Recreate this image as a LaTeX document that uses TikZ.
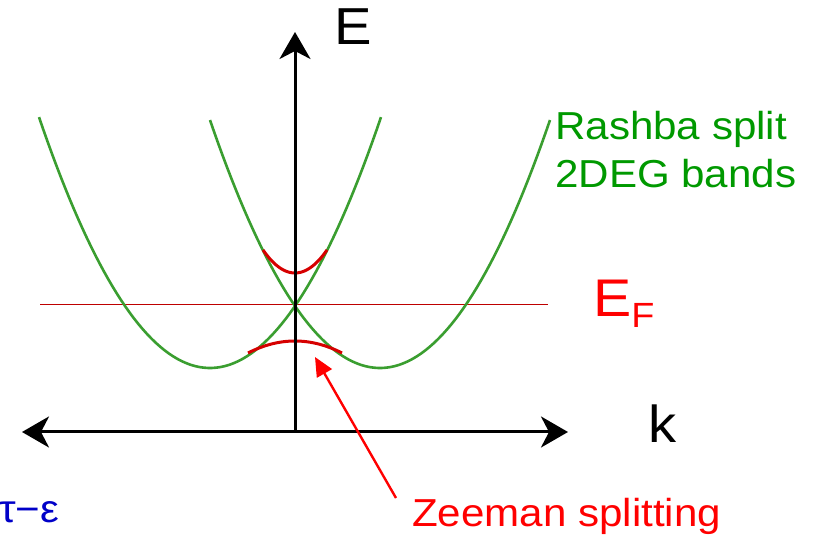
\documentclass[tikz,border=0pt]{standalone}
\usepackage{fontspec}
\setmainfont{Liberation Sans}[FakeStretch=1.08]
\usepackage{tikz}
\usetikzlibrary{arrows.meta,calc}
\definecolor{bandgreen}{RGB}{58,158,48}
\definecolor{txtgreen}{RGB}{0,153,0}
\definecolor{zred}{RGB}{214,0,0}
\definecolor{efred}{RGB}{190,0,0}
\definecolor{tblue}{RGB}{0,0,200}

\begin{document}
\begin{tikzpicture}[x=1pt,y=-1pt, >={Stealth[length=27pt,width=31pt,inset=8pt]},
  axis/.style={line width=3pt}, band/.style={draw=bandgreen,line width=2.6pt},
  zee/.style={draw=zred,line width=3pt}, big/.style={inner sep=0,font=\fontsize{52}{52}\selectfont},
  txt/.style={inner sep=0,font=\fontsize{39}{48}\selectfont}]
  \useasboundingbox (0,0) rectangle (815,537);
  \coordinate(o) at (295,432); \coordinate(et) at (295,32);
  \coordinate(kl) at (22,432); \coordinate(kr) at (568,432);
  \coordinate(fl) at (40,305); \coordinate(fr) at (548,305);
  \draw[efred,line width=1pt](fl)--(fr);
  % Rashba bands
  \draw[band] plot[domain=-171:171,samples=80]({210+\x},{368-0.858*(\x/10)*(\x/10)});
  \draw[band] plot[domain=-170:170,samples=80]({380+\x},{368-0.858*(\x/10)*(\x/10)});
  % Zeeman gaps
  \draw[zee] plot[domain=-32:32,samples=30]({295+\x},{273-0.0225*\x*\x});
  \draw[zee] plot[domain=-47:47,samples=30]({295+\x},{341+0.00543*\x*\x});
  \draw[axis,<->](kl)--(kr);
  \draw[axis,->](o)--(et);
  \node[big,anchor=base west](elab) at (334,45){E};
  \node[big,anchor=base west](klab) at (648,443){k};
  \node[inner sep=0,anchor=base west,text=red](ef) at (593,317)
    {\fontsize{53}{53}\selectfont E\raisebox{-11pt}{\fontsize{35}{35}\selectfont F}};
  \node[txt,text=txtgreen,anchor=north west,align=left](rashba) at (555,111){Rashba split\\2DEG bands};
  \node[txt,text=red,anchor=base west](zeeman) at (412,527){Zeeman splitting};
  \node[txt,text=tblue,anchor=base west](tau) at (-1,522){τ−ε};
  \coordinate(zs) at (396,498); \coordinate(zt) at (315,357);
  \draw[red,line width=2.4pt,-{Triangle[length=19pt,width=17pt]}](zs)--(zt);
\end{tikzpicture}
\end{document}
